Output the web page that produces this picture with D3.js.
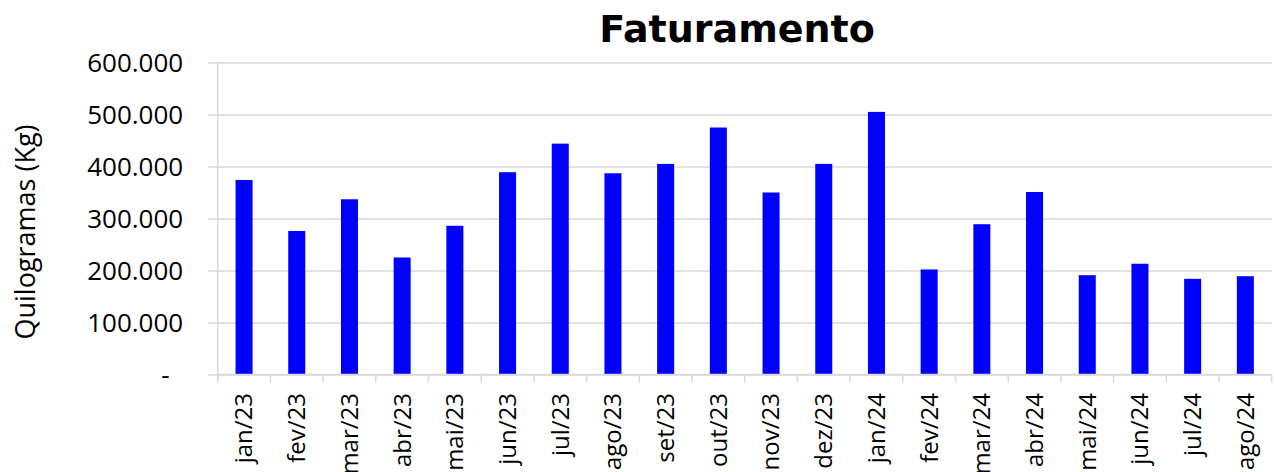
<!DOCTYPE html>
<html>
<head>
<meta charset="utf-8">
<script src="https://cdn.jsdelivr.net/npm/d3@7"></script>
<style>
  body { margin: 0; background: #fff; }
  svg { display: block; }
</style>
</head>
<body>
<svg width="1274" height="472"></svg>
<script>
// meses e quilos faturados
var meses = ["jan/23", "fev/23", "mar/23", "abr/23", "mai/23", "jun/23", "jul/23", "ago/23",
             "set/23", "out/23", "nov/23", "dez/23", "jan/24", "fev/24", "mar/24", "abr/24",
             "mai/24", "jun/24", "jul/24", "ago/24"];
var quilos = [374000, 276000, 337000, 225000, 286000, 389000, 444000, 387000,
              405000, 475000, 350000, 405000, 505000, 202000, 289000, 351000,
              191000, 213000, 184000, 189000];
var yTicks = [0, 100000, 200000, 300000, 400000, 500000, 600000];

var svg = d3.select("svg");
var pLeft = 217.7, pRight = 1271.7, pTop = 62.5, pBottom = 374.5;

var br = d3.formatLocale({decimal: ",", thousands: ".", grouping: [3], currency: ["R$", ""]});
var fmt = br.format(",d");

var x = d3.scaleBand()
    .domain(meses)
    .range([pLeft, pRight])
    .paddingInner(0.677)
    .paddingOuter(0.3385);

var y = d3.scaleLinear()
    .domain([0, 600000])
    .range([pBottom, pTop]);

// grade horizontal
var yAxis = d3.axisLeft(y)
    .tickValues(yTicks)
    .tickSize(-(pRight - pLeft) - 9.5)
    .tickFormat(function(d) { return d === 0 ? "-" : fmt(d); });

var gy = svg.append("g")
    .attr("transform", "translate(" + pRight + ",0)")
    .call(yAxis);
gy.select(".domain").remove();
gy.selectAll(".tick line")
    .attr("x2", -(pRight - pLeft) - 9.5)
    .attr("stroke", "#d9d9d9")
    .attr("stroke-width", 1.5);
gy.selectAll(".tick text")
    .attr("x", -(pRight - pLeft) - 34.5)
    .attr("dy", "0.35em")
    .attr("fill", "#000")
    .style("font-family", "'Open Sans'")
    .style("font-size", "26px")
    .filter(function(d) { return d === 0; })
    .attr("x", -(pRight - pLeft) - 48);

// eixo vertical
svg.append("line")
    .attr("x1", pLeft).attr("x2", pLeft)
    .attr("y1", pTop).attr("y2", pBottom + 8)
    .attr("stroke", "#d9d9d9")
    .attr("stroke-width", 1.5);

// marcas entre categorias
var bordas = meses.map(function(d) { return x(d) - (x.step() - x.bandwidth()) / 2; });
bordas.push(pRight);
svg.append("g").selectAll("line")
    .data(bordas)
    .enter().append("line")
    .attr("x1", function(d) { return d; })
    .attr("x2", function(d) { return d; })
    .attr("y1", pBottom)
    .attr("y2", pBottom + 8)
    .attr("stroke", "#d9d9d9")
    .attr("stroke-width", 1.5);

// barras
svg.append("g").selectAll("rect")
    .data(quilos)
    .enter().append("rect")
    .attr("x", function(d, i) { return x(meses[i]); })
    .attr("width", x.bandwidth())
    .attr("y", function(d) { return y(d); })
    .attr("height", function(d) { return y(0) - y(d); })
    .attr("fill", "#0000ff");

// rotulos do eixo x
var gx = svg.append("g")
    .attr("transform", "translate(0," + pBottom + ")")
    .call(d3.axisBottom(x).tickSize(0));
gx.select(".domain")
    .attr("stroke", "#d9d9d9")
    .attr("stroke-width", 1.5)
    .attr("d", "M" + pLeft + ",0H" + pRight);
gx.selectAll(".tick text")
    .attr("transform", "rotate(-90)")
    .attr("x", -18.5)
    .attr("y", 0)
    .attr("dy", "0.35em")
    .attr("text-anchor", "end")
    .attr("fill", "#000")
    .style("font-family", "'Open Sans'")
    .style("font-size", "24px");

// titulo
svg.append("text")
    .attr("x", 737)
    .attr("y", 41.7)
    .attr("text-anchor", "middle")
    .style("font-family", "'DejaVu Sans'")
    .style("font-weight", "bold")
    .style("font-size", "38px")
    .text("Faturamento");

// titulo do eixo y
svg.append("text")
    .attr("transform", "translate(35,232) rotate(-90)")
    .attr("text-anchor", "middle")
    .style("font-family", "'Open Sans'")
    .style("font-size", "27px")
    .text("Quilogramas (Kg)");
</script>
</body>
</html>
